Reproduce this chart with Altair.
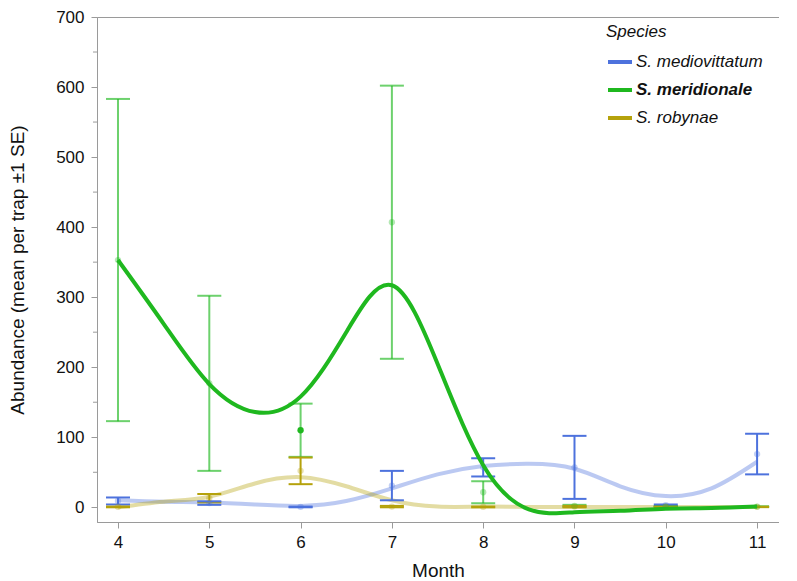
import altair as alt
import pandas as pd

# ---------------- data ----------------
months = [4, 5, 6, 7, 8, 9, 10, 11]
species = ["S. mediovittatum", "S. meridionale", "S. robynae"]

mediovittatum_mean = [9, 6, 0.5, 31, 57, 57, 3, 76]
mediovittatum_se = [5, 2.5, 0.5, 21, 13, 45, 1, 29]
meridionale_mean = [353, 177, 110, 407, 21.5, 2, 1, 1]
meridionale_se = [230, 125, 38, 195, 15.7, 1.5, 0.5, 0.5]
robynae_mean = [0.5, 13, 52, 1, 0.5, 1, 0.5, 0.5]
robynae_se = [0.5, 6, 19, 1, 0.5, 1, 0.3, 0.3]

# smoothed trend curves, read at half-month steps
curve_months = [4, 4.5, 5, 5.5, 6, 6.5, 7, 7.5, 8, 8.5, 9, 9.5, 10, 10.5, 11]
mediovittatum_curve = [10, 8, 7, 4, 2, 9, 27, 47, 59, 62, 55, 30, 16, 27, 65]
meridionale_curve = [353, 262, 176, 136, 158, 250, 317, 205, 60, -3, -7, -5, -2, -1, 1]
robynae_curve = [0, 8, 15, 34, 43, 30, 10, 1, 1, 0.5, 0.5, 0.5, 0.5, 0.5, 0.5]

highlight_species = "S. meridionale"
highlight_month = 6

y_major = [0, 100, 200, 300, 400, 500, 600, 700]
y_minor = [50, 150, 250, 350, 450, 550, 650]

# ---------------- tables ----------------
rows = []
for sp, mm, ss in zip(species,
                      [mediovittatum_mean, meridionale_mean, robynae_mean],
                      [mediovittatum_se, meridionale_se, robynae_se]):
    for mo, m, s in zip(months, mm, ss):
        rows.append({"species": sp, "month": mo, "mean": m,
                     "lo": m - s, "hi": m + s,
                     "solid": bool(sp == highlight_species and mo == highlight_month)})
pts = pd.DataFrame(rows)

crows = []
for sp, cc in zip(species, [mediovittatum_curve, meridionale_curve, robynae_curve]):
    for mo, v in zip(curve_months, cc):
        crows.append({"species": sp, "month": mo, "value": v})
curves = pd.DataFrame(crows)

minor_df = pd.DataFrame({"value": y_minor})

# ---------------- styling ----------------
main_colors = ["#4d72dd", "#1fb81f", "#b5a20c"]
FONT = "Liberation Sans"
AX = "#9a9a9a"

xscale = alt.Scale(domain=[3.77, 11.24], nice=False)
yscale = alt.Scale(domain=[-21, 700], nice=False)


def X(field):
    return alt.X(f"{field}:Q", scale=xscale,
                 axis=alt.Axis(values=months, title="Month", grid=False,
                               tickSize=6, labelPadding=6, titlePadding=11,
                               labelFontSize=17, titleFontSize=19,
                               titleFontWeight="normal"))


def Y(field):
    return alt.Y(f"{field}:Q", scale=yscale,
                 axis=alt.Axis(values=y_major, title="Abundance (mean per trap ±1 SE)",
                               grid=False, tickSize=6, labelPadding=7,
                               titlePadding=28, labelFontSize=17, titleFontSize=19,
                               titleFontWeight="normal"))


legend = alt.Legend(
    title="Species", orient="none", legendX=509, legendY=7,
    titleFontStyle="italic", titleFontWeight="normal", titleFontSize=17,
    titleColor="#111", titleFont=FONT, titlePadding=7,
    labelFontStyle="italic", labelFontSize=17, labelColor="#111", labelFont=FONT,
    labelFontWeight=alt.ExprRef(expr="datum.label == 'S. meridionale' ? 'bold' : 'normal'"),
    symbolType="stroke", symbolStrokeWidth=4, symbolSize=576, symbolOpacity=1,
    labelOffset=2, rowPadding=6,
)
color = alt.Color("species:N", scale=alt.Scale(domain=species, range=main_colors),
                  legend=legend)

base_c = alt.Chart(curves)
base_p = alt.Chart(pts)

faded_curves = base_c.mark_line(strokeWidth=4, interpolate="natural", opacity=0.38).encode(
    x=X("month"), y=Y("value"), color=color, detail="species:N"
).transform_filter(alt.datum.species != highlight_species)

eb_opacity = alt.condition(alt.datum.species == highlight_species, alt.value(0.65), alt.value(1.0))

bars = base_p.mark_rule(strokeWidth=2).encode(
    x=X("month"), y=Y("lo"), y2="hi:Q", color=color, opacity=eb_opacity
)
caps_lo = base_p.mark_tick(orient="horizontal", size=24, thickness=2).encode(
    x=X("month"), y=Y("lo"), color=color, opacity=eb_opacity
)
caps_hi = base_p.mark_tick(orient="horizontal", size=24, thickness=2).encode(
    x=X("month"), y=Y("hi"), color=color, opacity=eb_opacity
)

points = base_p.mark_circle(size=40).encode(
    x=X("month"), y=Y("mean"), color=color,
    opacity=alt.condition(alt.datum.solid, alt.value(1.0), alt.value(0.33)),
)

main_curve = base_c.mark_line(strokeWidth=4, interpolate="natural").encode(
    x=X("month"), y=Y("value"), color=color
).transform_filter(alt.datum.species == highlight_species)

minor_ticks = alt.Chart(minor_df).mark_rule(color=AX, strokeWidth=1).encode(
    y=Y("value"), x=alt.value(-4), x2=alt.value(0)
)

chart = alt.layer(
    faded_curves, bars, caps_lo, caps_hi, points, main_curve, minor_ticks
).properties(
    width=682, height=505, padding={"left": 0, "top": 0, "right": 0, "bottom": 0}
).configure(
    font=FONT
).configure_view(
    stroke=AX, strokeWidth=1
).configure_axis(
    domainColor=AX, tickColor=AX, labelColor="#111", titleColor="#111",
    labelFont=FONT, titleFont=FONT
)

chart.save("out.html", embed_options={"renderer": "svg", "actions": False})
